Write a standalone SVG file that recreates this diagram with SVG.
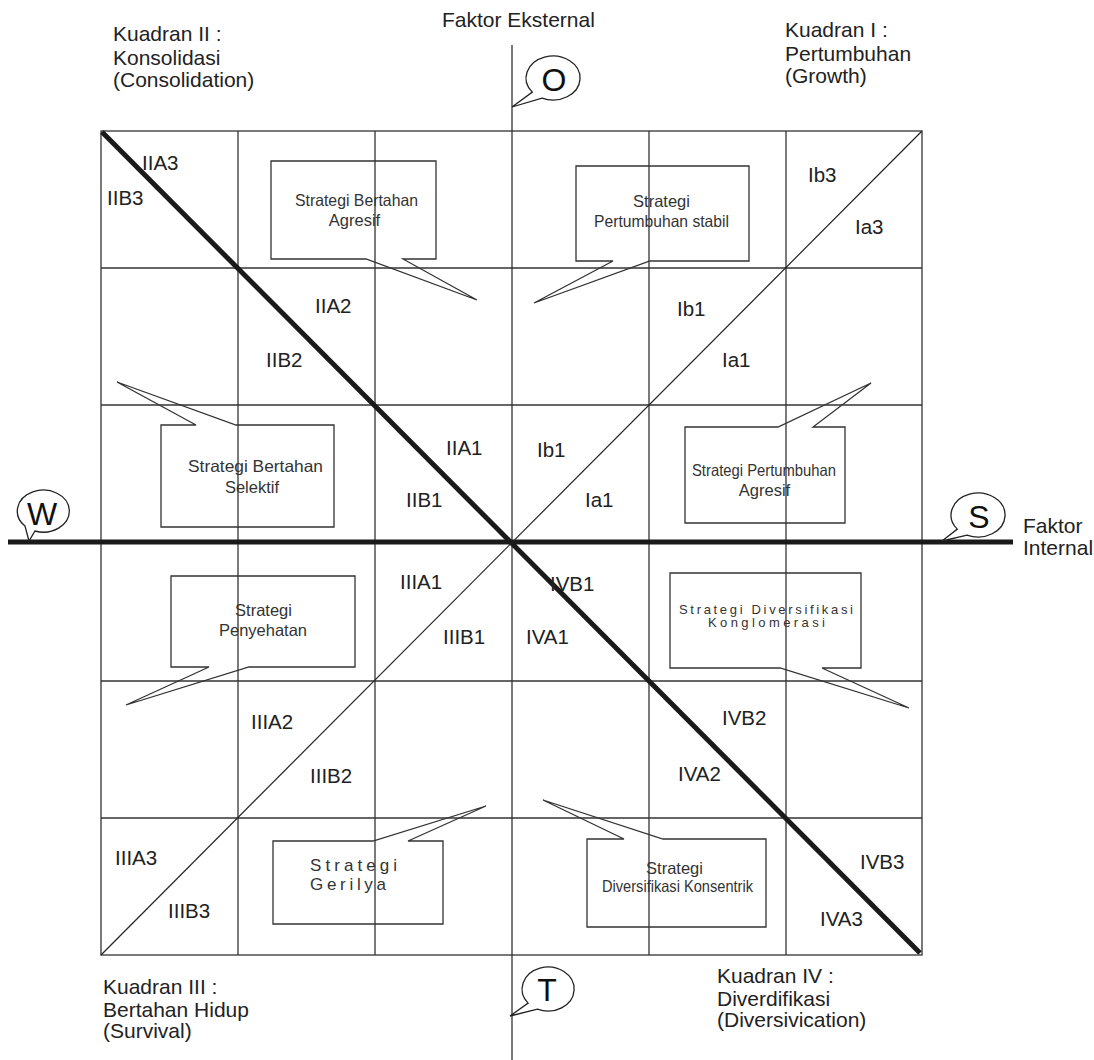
<svg xmlns="http://www.w3.org/2000/svg" width="1094" height="1060" viewBox="0 0 1094 1060">
<style>
.bg{fill:#fff}
.grid{fill:none;stroke:#333;stroke-width:1.3}
.thick{fill:none;stroke:#1a1a1a;stroke-width:5}
.thin{fill:none;stroke:#222;stroke-width:1.2}
.box{fill:#fff;fill-opacity:0;stroke:#333;stroke-width:1.3}
.bub{fill:#fff;stroke:#222;stroke-width:1.3}
.lbl{font-family:"Liberation Sans",Arial,sans-serif;font-size:21px;fill:#222}
.cell{font-family:"Liberation Sans",Arial,sans-serif;font-size:20.5px;fill:#222}
.st{font-family:"Liberation Sans",Arial,sans-serif;font-size:16.5px;fill:#333;text-anchor:middle}
.sp{font-family:"Liberation Sans",Arial,sans-serif;fill:#333}
.big{font-family:"Liberation Sans",Arial,sans-serif;font-size:32px;fill:#111;text-anchor:middle}
</style>
<rect class="bg" x="0" y="0" width="1094" height="1060"/>

<g id="connectors">
  <rect class="grid" x="101" y="131" width="821" height="824"/>
  <line class="grid" x1="238" y1="131" x2="238" y2="955"/>
  <line class="grid" x1="375" y1="131" x2="375" y2="955"/>
  <line class="grid" x1="649" y1="131" x2="649" y2="955"/>
  <line class="grid" x1="786" y1="131" x2="786" y2="955"/>
  <line class="grid" x1="101" y1="268" x2="922" y2="268"/>
  <line class="grid" x1="101" y1="405" x2="922" y2="405"/>
  <line class="grid" x1="101" y1="681" x2="922" y2="681"/>
  <line class="grid" x1="101" y1="818" x2="922" y2="818"/>
  <line class="thin" x1="512" y1="45" x2="512" y2="1060"/>
  <line class="thick" x1="8" y1="542" x2="1013" y2="542"/>
  <line class="thin" x1="101" y1="955" x2="922" y2="131"/>
  <line class="thick" x1="102" y1="132" x2="920" y2="953"/>
</g>

<g id="label-quadrant-2">
  <text class="lbl" x="113" y="41">Kuadran II :</text>
  <text class="lbl" x="113" y="65">Konsolidasi</text>
  <text class="lbl" x="113" y="87">(Consolidation)</text>
</g>
<g id="label-faktor-eksternal">
  <text class="lbl" x="442" y="27">Faktor Eksternal</text>
</g>
<g id="label-quadrant-1">
  <text class="lbl" x="785" y="37">Kuadran I :</text>
  <text class="lbl" x="785" y="61">Pertumbuhan</text>
  <text class="lbl" x="785" y="83">(Growth)</text>
</g>
<g id="label-quadrant-3">
  <text class="lbl" x="103" y="994">Kuadran III :</text>
  <text class="lbl" x="103" y="1017">Bertahan Hidup</text>
  <text class="lbl" x="103" y="1038">(Survival)</text>
</g>
<g id="label-quadrant-4">
  <text class="lbl" x="717" y="983">Kuadran IV :</text>
  <text class="lbl" x="717" y="1006">Diverdifikasi</text>
  <text class="lbl" x="717" y="1027">(Diversivication)</text>
</g>
<g id="label-faktor-internal">
  <text class="lbl" x="1023" y="533">Faktor</text>
  <text class="lbl" x="1023" y="555">Internal</text>
</g>

<g id="bubble-O">
  <path class="bub" d="M542,98.1 A27 22 0 1 0 532.3,92.1 L512,107 Z"/>
  <text class="big" x="554" y="91">O</text>
</g>
<g id="bubble-S">
  <path class="bub" d="M967,535.1 A27 22 0 1 0 957.3,529.1 L942,541 Z"/>
  <text class="big" x="979" y="528">S</text>
</g>
<g id="bubble-T">
  <path class="bub" d="M537.4,1009.1 A26 22 0 1 0 528.1,1003.1 L510,1016 Z"/>
  <text class="big" x="547" y="1001">T</text>
</g>
<g id="bubble-W">
  <path class="bub" d="M35,531 A26 21 0 1 0 25,526 L29,541 Z"/>
  <text class="big" x="42" y="525">W</text>
</g>

<g id="callout-bertahan-agresif">
  <path class="box" d="M271,161 H436 V259 H403 L477,300 L366,259 H271 Z"/>
  <text class="st" x="356.5" y="206" textLength="123" lengthAdjust="spacingAndGlyphs">Strategi Bertahan</text>
  <text class="st" x="354.5" y="226">Agresif</text>
</g>
<g id="callout-pertumbuhan-stabil">
  <path class="box" d="M576,166 H749 V261 H650 L534,303 L613,261 H576 Z"/>
  <text class="st" x="661.5" y="207">Strategi</text>
  <text class="st" x="661.5" y="227" textLength="135" lengthAdjust="spacingAndGlyphs">Pertumbuhan stabil</text>
</g>
<g id="callout-bertahan-selektif">
  <path class="box" d="M161,425 H196 L117,382 L236,425 H334 V527 H161 Z"/>
  <text class="st" x="255.5" y="472" textLength="135" lengthAdjust="spacingAndGlyphs">Strategi Bertahan</text>
  <text class="st" x="252" y="493">Selektif</text>
</g>
<g id="callout-pertumbuhan-agresif">
  <path class="box" d="M685,427 H778 L871,383 L813,427 H845 V523 H685 Z"/>
  <text class="st" x="764" y="476" textLength="144" lengthAdjust="spacingAndGlyphs">Strategi Pertumbuhan</text>
  <text class="st" x="764.5" y="496">Agresif</text>
</g>
<g id="callout-penyehatan">
  <path class="box" d="M171,576 H355 V667 H249 L126,705 L209,667 H171 Z"/>
  <text class="st" x="263.5" y="616">Strategi</text>
  <text class="st" x="263" y="636">Penyehatan</text>
</g>
<g id="callout-konglomerasi">
  <path class="box" d="M670,573 H861 V668 H822 L909,708 L780,668 H670 Z"/>
  <text class="sp" font-size="13" x="679" y="614" textLength="174" lengthAdjust="spacing">Strategi Diversifikasi</text>
  <text class="sp" font-size="13" x="708" y="627" textLength="117" lengthAdjust="spacing">Konglomerasi</text>
</g>
<g id="callout-gerilya">
  <path class="box" d="M273,841 H373 L486,806 L408,841 H443 V924 H273 Z"/>
  <text class="sp" font-size="17" x="310" y="871" textLength="87" lengthAdjust="spacing">Strategi</text>
  <text class="sp" font-size="17" x="310" y="890" textLength="76" lengthAdjust="spacing">Gerilya</text>
</g>
<g id="callout-konsentrik">
  <path class="box" d="M587,839 H624 L543,800 L663,839 H766 V927 H587 Z"/>
  <text class="st" x="674.5" y="874">Strategi</text>
  <text class="st" x="677.5" y="892" textLength="151" lengthAdjust="spacingAndGlyphs">Diversifikasi Konsentrik</text>
</g>

<g id="cell-labels">
  <text class="cell" x="142" y="170">IIA3</text>
  <text class="cell" x="107" y="205">IIB3</text>
  <text class="cell" x="315" y="313">IIA2</text>
  <text class="cell" x="266" y="367">IIB2</text>
  <text class="cell" x="446" y="455">IIA1</text>
  <text class="cell" x="406" y="507">IIB1</text>
  <text class="cell" x="808" y="182">Ib3</text>
  <text class="cell" x="855" y="234">Ia3</text>
  <text class="cell" x="677" y="316">Ib1</text>
  <text class="cell" x="722" y="367">Ia1</text>
  <text class="cell" x="537" y="457">Ib1</text>
  <text class="cell" x="585" y="507">Ia1</text>
  <text class="cell" x="400" y="589">IIIA1</text>
  <text class="cell" x="443" y="644">IIIB1</text>
  <text class="cell" x="550" y="591">IVB1</text>
  <text class="cell" x="526" y="644">IVA1</text>
  <text class="cell" x="251" y="729">IIIA2</text>
  <text class="cell" x="310" y="783">IIIB2</text>
  <text class="cell" x="722" y="725">IVB2</text>
  <text class="cell" x="678" y="781">IVA2</text>
  <text class="cell" x="115" y="865">IIIA3</text>
  <text class="cell" x="168" y="918">IIIB3</text>
  <text class="cell" x="860" y="869">IVB3</text>
  <text class="cell" x="820" y="926">IVA3</text>
</g>
</svg>
